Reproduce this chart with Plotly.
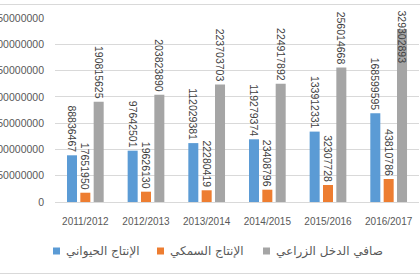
import plotly.graph_objects as go

years = ["2011/2012", "2012/2013", "2013/2014", "2014/2015", "2015/2016", "2016/2017"]
animal = [88836467, 97642501, 112029381, 119279374, 133912331, 168599595]
fish = [17651950, 19626130, 22280419, 23408796, 32307728, 43810786]
net_income = [190815625, 203823890, 223703703, 224917892, 256014668, 329302893]
names = ["الإنتاج الحيواني", "الإنتاج السمكي", "صافي الدخل الزراعي"]
colors = ["#5B9BD5", "#ED7D31", "#A5A5A5"]
ytick_vals = [0, 50000000, 100000000, 150000000, 200000000, 250000000, 300000000, 350000000]

W, H = 420, 280
L, R, T, B = 55, 1, 18, 78
YMAX = 350000000
plot_h = H - T - B
plot_w = W - L - R

font_main = "Liberation Sans, Arial, sans-serif"
txtcol = "#404040"

fig = go.Figure()
series = [animal, fish, net_income]
for i, (vals, nm, col) in enumerate(zip(series, names, colors)):
    texts = []
    for v in vals:
        texts.append(str(v) if v <= 0.8 * YMAX else "")
    fig.add_trace(go.Bar(
        x=years, y=vals, name=nm, marker_color=col, marker_line_width=0,
        text=texts, textposition="outside", textangle=90,
        textfont=dict(family=font_main, size=10.5, color=txtcol),
        cliponaxis=False, constraintext="none", showlegend=False,
    ))

# label too tall for space above the bar: clamp to chart top like Excel does
bargap = 0.34
slot = (1 - bargap) / 3 * plot_w / len(years)
for i, vals in enumerate(series):
    for xi, v in enumerate(vals):
        if v > 0.8 * YMAX:
            fig.add_annotation(
                x=years[xi], y=1 + 10 / plot_h, yref="paper", xref="x",
                xshift=(i - 1) * slot, text=str(v), textangle=90,
                showarrow=False, yanchor="top", xanchor="center",
                font=dict(family=font_main, size=10.5, color=txtcol),
            )

fig.update_layout(
    width=W, height=H,
    margin=dict(l=L, r=R, t=T, b=B),
    paper_bgcolor="white", plot_bgcolor="white",
    barmode="group", bargap=bargap, bargroupgap=0.25,
    font=dict(family=font_main, size=10, color="#595959"),
    showlegend=False,
)
fig.update_xaxes(
    type="category", showgrid=False, showline=False, ticks="",
    tickfont=dict(family=font_main, size=10, color="#595959"),
    ticklabelstandoff=12,
)
fig.update_yaxes(
    range=[0, YMAX], tickvals=ytick_vals, tickformat="d",
    showgrid=True, gridcolor="#D9D9D9", gridwidth=1,
    zeroline=True, zerolinecolor="#D9D9D9", zerolinewidth=1,
    showline=False, ticks="", automargin=False,
    tickfont=dict(family=font_main, size=10.5, color="#595959"),
    ticklabelstandoff=10,
)

# chart-area border lines (top / bottom)
for py in [4.5, 273.5]:
    yp = (H - B - py) / plot_h
    fig.add_shape(type="line", xref="paper", yref="paper",
                  x0=-L / plot_w, x1=1 + R / plot_w, y0=yp, y1=yp,
                  line=dict(color="#D9D9D9", width=1))

# legend drawn manually (marker left of Arabic text)
leg_y = (H - B - 251) / plot_h
leg_items = [(53, names[0], colors[0]), (157, names[1], colors[1]), (263, names[2], colors[2])]
for px, nm, col in leg_items:
    x0 = (px - L) / plot_w
    x1 = (px + 7 - L) / plot_w
    dy = 3.5 / plot_h
    fig.add_shape(type="rect", xref="paper", yref="paper",
                  x0=x0, x1=x1, y0=leg_y - dy, y1=leg_y + dy,
                  line_width=0, fillcolor=col)
    fig.add_annotation(xref="paper", yref="paper", x=(px + 11 - L) / plot_w, y=leg_y,
                       text=nm, showarrow=False, xanchor="left", yanchor="middle",
                       font=dict(family="DejaVu Sans, sans-serif", size=12, color="#595959"))

fig.write_html("out.html")
